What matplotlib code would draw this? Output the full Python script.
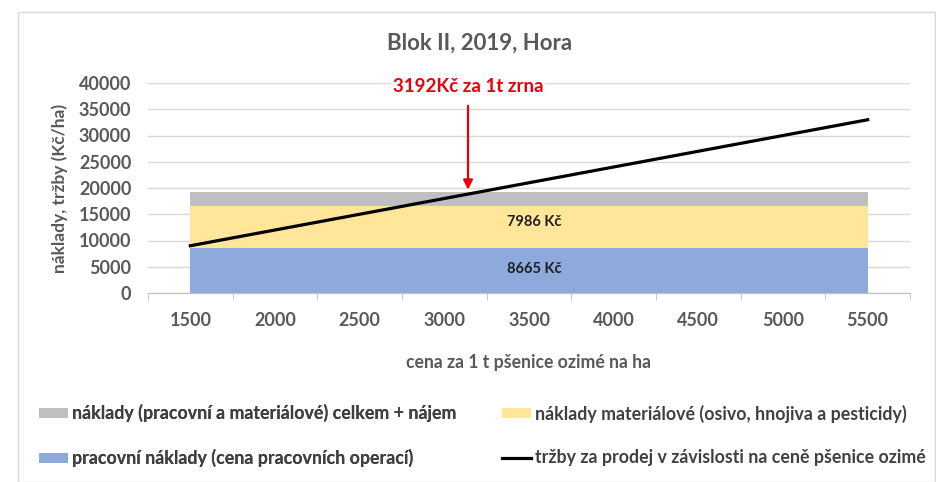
import matplotlib.pyplot as plt
from matplotlib.patches import Rectangle, Patch
from matplotlib.lines import Line2D

plt.rcParams['font.family'] = ['Lato', 'DejaVu Sans']

# data
prices = [1500, 2000, 2500, 3000, 3500, 4000, 4500, 5000, 5500]
revenue = [9000, 12000, 15000, 18000, 21000, 24000, 27000, 30000, 33000]
labour_cost = 8665
material_cost = 7986
rent = 2501
break_even = 3192

labels = [
    "náklady (pracovní a materiálové) celkem + nájem",
    "náklady materiálové (osivo, hnojiva a pesticidy)",
    "pracovní náklady (cena pracovních operací)",
    "tržby za prodej v závislosti na ceně pšenice ozimé",
]

BLUE = "#8EA9DB"
YELLOW = "#FFE699"
GREY = "#BFBFBF"
TXT = "#595959"

fig = plt.figure(figsize=(9.36, 4.82), dpi=100)
W, H = 936, 482
fig.patches.append(Rectangle((18 / W, 0), (W - 19) / W, (H - 12) / H,
                             transform=fig.transFigure, fill=False,
                             edgecolor="#d9d9d9", linewidth=1))

ax = fig.add_axes([148 / W, 1 - 293 / H, (910 - 148) / W, (293 - 83) / H])
ax.set_xlim(1250, 5750)
ax.set_ylim(0, 40000)

lab = [labour_cost] * len(prices)
mat = [labour_cost + material_cost] * len(prices)
tot = [labour_cost + material_cost + rent] * len(prices)
ax.fill_between(prices, 0, lab, color=BLUE, linewidth=0, zorder=2)
ax.fill_between(prices, lab, mat, color=YELLOW, linewidth=0, zorder=2)
ax.fill_between(prices, mat, tot, color=GREY, linewidth=0, zorder=2)
ax.plot(prices, revenue, color="black", linewidth=2.3, zorder=3)

ax.text(3530, labour_cost / 2 + 300, f"{labour_cost} Kč", ha="center",
        va="center", fontsize=10.5, fontweight="bold", color="#1f1f1f",
        zorder=4)
ax.text(3530, labour_cost + material_cost / 2 + 900, f"{material_cost} Kč",
        ha="center", va="center", fontsize=10.5, fontweight="bold",
        color="#1f1f1f", zorder=4)

# break-even annotation
ax.annotate("", xy=(3140, 19152), xytext=(3140, 36200),
            arrowprops=dict(arrowstyle="-|>", color="#E8000B", lw=1.6,
                            mutation_scale=14), zorder=5)
ax.text(3140, 39300, f"{break_even}Kč za 1t zrna", ha="center", va="center",
        fontsize=13.5, fontweight="bold", color="#E8000B", zorder=5,
        bbox=dict(facecolor="white", edgecolor="none", pad=1))

ax.set_xticks(prices)
ax.set_xticks([p - 250 for p in prices] + [5750], minor=True)
ax.set_yticks(range(0, 40001, 5000))
ax.grid(axis="y", color="#d9d9d9", linewidth=1, zorder=0)
ax.set_axisbelow(True)
for s in ["top", "right", "left"]:
    ax.spines[s].set_visible(False)
ax.spines["bottom"].set_color("#bfbfbf")
ax.tick_params(axis="x", which="major", length=0, pad=14, labelsize=13,
               labelcolor=TXT)
ax.tick_params(axis="x", which="minor", length=5, color="#bfbfbf")
ax.tick_params(axis="y", length=0, pad=12, labelsize=13, labelcolor=TXT)
for t in ax.get_xticklabels() + ax.get_yticklabels():
    t.set_fontweight("bold")

ax.set_xlabel("cena za 1 t pšenice ozimé na ha", fontsize=12.7,
              fontweight="bold", color=TXT, labelpad=18)
ax.set_ylabel("náklady, tržby (Kč/ha)", fontsize=12.5, fontweight="bold",
              color=TXT, labelpad=8)

fig.text(480 / W, 1 - 43 / H, "Blok II, 2019, Hora", ha="center",
         va="center", fontsize=16, fontweight="bold", color=TXT)

handles = [
    Patch(facecolor=GREY, edgecolor="none"),
    Patch(facecolor=YELLOW, edgecolor="none"),
    Patch(facecolor=BLUE, edgecolor="none"),
    Line2D([], [], color="black", linewidth=2.3),
]
leg_kw = dict(frameon=False, prop={"size": 12.8, "weight": "bold"},
              labelcolor="#404040", handlelength=1.63, handleheight=0.5,
              handletextpad=0.22, labelspacing=1.5, borderpad=0,
              borderaxespad=0, loc="center left")
leg1 = fig.legend([handles[0], handles[2]], [labels[0], labels[2]],
                  bbox_to_anchor=(39 / W, 1 - 435.5 / H), **leg_kw)
fig.legend([handles[1], handles[3]], [labels[1], labels[3]],
           bbox_to_anchor=(502 / W, 1 - 435.5 / H), **leg_kw)
fig.add_artist(leg1)

fig.savefig("out.png", dpi=100)
